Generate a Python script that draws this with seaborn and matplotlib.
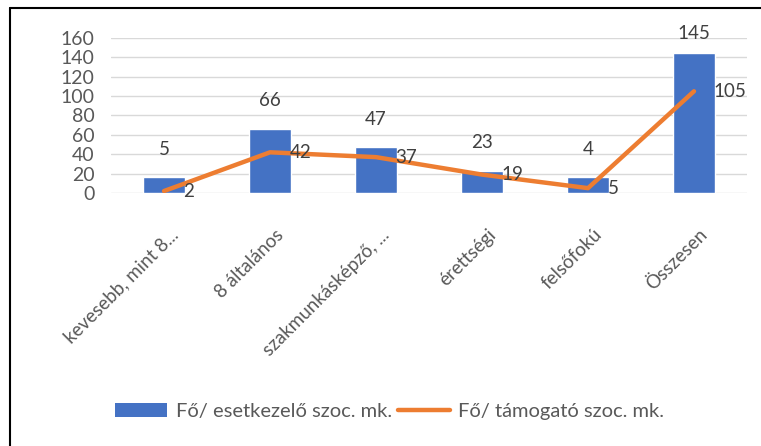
import matplotlib
matplotlib.use("Agg")
import numpy as np
import pandas as pd
import matplotlib.pyplot as plt
import matplotlib.transforms as mtransforms
import seaborn as sns
from matplotlib.patches import Patch
from matplotlib.lines import Line2D

# kategóriák és adatok
kategoriak = ["kevesebb, mint 8...", "8 általános", "szakmunkásképző, ...",
              "érettségi", "felsőfokú", "Összesen"]
# oszlopmagasságok, feliratok külön
esetkezelo = [16, 66, 47, 23, 16, 145]
esetkezelo_felirat = ["5", "66", "47", "23", "4", "145"]
tamogato = [2, 42, 37, 19, 5, 105]
y_ticks = [0, 20, 40, 60, 80, 100, 120, 140, 160]

kek = "#4472C4"
narancs = "#ED7D31"
szurke = "#595959"

sns.set_theme(style="white")
plt.rcParams["font.family"] = ["Lato", "DejaVu Sans"]

df = pd.DataFrame({"kat": kategoriak, "eset": esetkezelo,
                   "tam": tamogato, "pos": np.arange(len(kategoriak))})

fig = plt.figure(figsize=(7.61, 4.46), dpi=100)
ax = fig.add_axes([0.1459, 0.5673, 0.8357, 0.3475])

sns.barplot(data=df, x="kat", y="eset", color=kek, width=0.39,
            saturation=1, ax=ax, zorder=2)
sns.lineplot(data=df, x="pos", y="tam", color=narancs, linewidth=3.2,
             sort=False, ax=ax, zorder=3)

ax.set_xlim(-0.5, len(kategoriak) - 0.5)
ax.set_ylim(0, 160)
ax.set_yticks(y_ticks)
ax.yaxis.grid(True, color="#D9D9D9", linewidth=1, zorder=0)
ax.set_axisbelow(True)
for s in ax.spines.values():
    s.set_visible(False)
ax.set_xlabel("")
ax.set_ylabel("")
ax.tick_params(axis="y", labelsize=14, labelcolor=szurke, length=0, pad=12)
ax.tick_params(axis="x", length=0, pad=28)
ax.set_xticks(df["pos"])
ax.set_xticklabels(kategoriak, rotation=45, ha="right", va="center",
                   rotation_mode="anchor", fontsize=13.5, color=szurke)
eltolas = mtransforms.ScaledTranslation(11 / 100, 0, fig.dpi_scale_trans)
for lab in ax.get_xticklabels():
    lab.set_transform(lab.get_transform() + eltolas)

# adatfeliratok
for i, (v, t) in enumerate(zip(esetkezelo, esetkezelo_felirat)):
    ax.text(i, min(v + 29, 165), t, ha="center", va="center", fontsize=13.5,
            color="#404040", clip_on=False)
for i, v in enumerate(tamogato):
    ax.annotate(str(v), (i, v), xytext=(14, 0), textcoords="offset points",
                ha="left", va="center", fontsize=13.5, color="#404040",
                annotation_clip=False)

# jelmagyarázat
kezelok = [Patch(facecolor=kek, edgecolor="none"),
           Line2D([0], [0], color=narancs, linewidth=3.2)]
fig.legend(kezelok, ["Fő/ esetkezelő szoc. mk.", "Fő/ támogató szoc. mk."],
           loc="center", bbox_to_anchor=(0.512, 0.078), ncol=2, frameon=False,
           fontsize=14.5, labelcolor=szurke, handlelength=2.6,
           handleheight=0.7, handletextpad=0.4, columnspacing=0.3)

# keret (felső és bal oldali vonal)
fig.add_artist(Line2D([0.0125, 1], [0.983, 0.983], color="black", linewidth=1.5,
                      transform=fig.transFigure))
fig.add_artist(Line2D([0.0125, 0.0125], [0, 0.983], color="black", linewidth=1.5,
                      transform=fig.transFigure))

plt.savefig("out.png", dpi=100)
plt.close("all")
